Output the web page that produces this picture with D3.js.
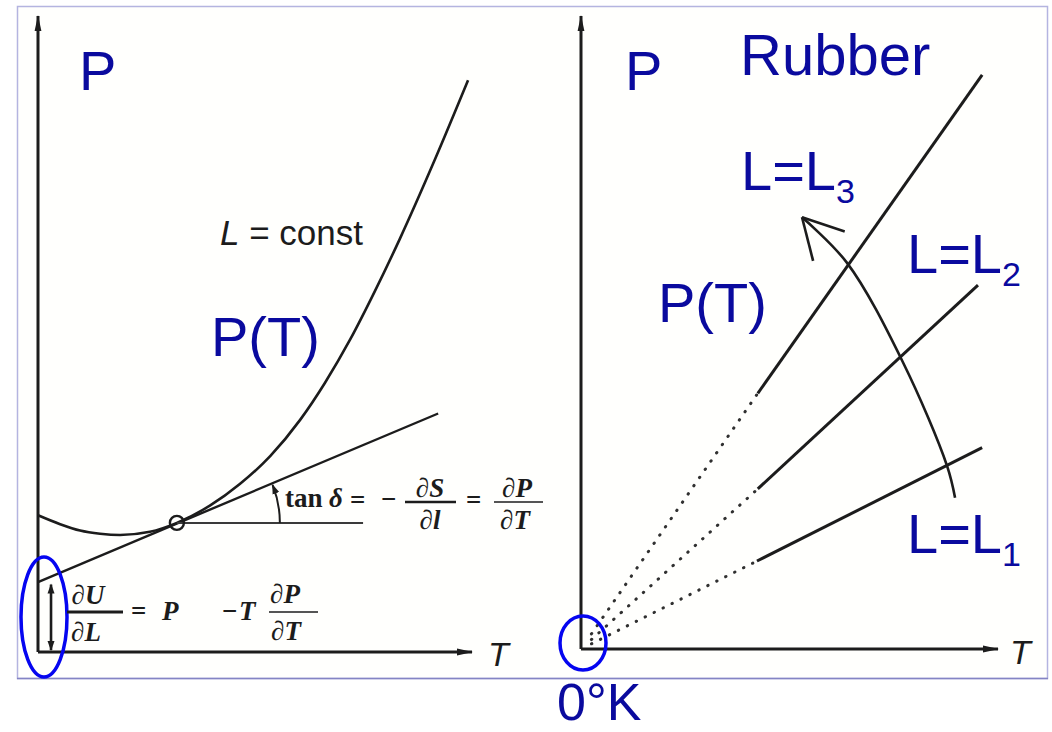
<!DOCTYPE html>
<html>
<head>
<meta charset="utf-8">
<script src="https://cdn.jsdelivr.net/npm/d3@7"></script>
<style>
  html, body { margin: 0; padding: 0; background: #ffffff; }
  svg { display: block; }
</style>
</head>
<body>
<svg id="chart" width="1052" height="732"></svg>
<script>
// ---- Left panel: P(T) at constant length, with tangent at one point ----
const curveT = [0, 5.1, 9.7, 14.3, 18.9, 25.8, 32.0, 39.6, 46.5, 53.5, 60.4, 66.1, 71.9, 77.6, 83.4, 91.5, 99.1];
const curveP = [21.5, 20.1, 19.1, 18.6, 18.4, 18.9, 20.3, 23.0, 26.4, 30.8, 36.5, 42.3, 49.1, 56.7, 65.0, 77.5, 89.9];
const tangentT = [0, 92.2];
const tangentP = [11.0, 37.5];
const touchT = 32.0;
const touchP = 20.3;
const levelEndT = 74.9;
const interceptArrowT = 3.0;
const interceptArrowP = [10.6, 0.3];

// ---- Right panel: rubber isometrics extrapolating to 0 K ----
const isoLabels = ["L=L1", "L=L2", "L=L3"];
const isoStartT = [42.2, 42.4, 42.4];
const isoStartP = [13.9, 25.3, 40.4];
const isoEndT = [96.2, 95.2, 96.2];
const isoEndP = [31.8, 57.5, 90.7];
const dotStartT = 2.5;
const arcT = [89.7, 87.8, 77.2, 63.8, 53.0];
const arcP = [23.9, 28.9, 45.3, 61.0, 68.2];

const BLUE_TEXT = "#0a0a9e";
const BLUE_RING = "#0505f0";
const INK = "#1c1c1c";
const SANS = "'Liberation Sans', Arial, Helvetica, sans-serif";
const SERIF = "'Liberation Serif', 'Times New Roman', serif";

const svg = d3.select("#chart");

// frame around both panels
svg.append("rect")
  .attr("x", 17.5).attr("y", 6.5).attr("width", 1030).attr("height", 672)
  .attr("fill", "#fffffd").attr("stroke", "#b4b4e0").attr("stroke-width", 1.5);
svg.append("line")
  .attr("x1", 17).attr("x2", 1048).attr("y1", 678.5).attr("y2", 678.5)
  .attr("stroke", "#8484c4").attr("stroke-width", 1.5);

// markers
const defs = svg.append("defs");
defs.append("marker")
  .attr("id", "axisHead").attr("markerUnits", "userSpaceOnUse")
  .attr("markerWidth", 18).attr("markerHeight", 10)
  .attr("refX", 15).attr("refY", 5).attr("orient", "auto")
  .append("path").attr("d", "M0,1.6 L16,5 L0,8.4 Z").attr("fill", INK);
defs.append("marker")
  .attr("id", "smallHead").attr("markerUnits", "userSpaceOnUse")
  .attr("markerWidth", 12).attr("markerHeight", 10)
  .attr("refX", 9).attr("refY", 5).attr("orient", "auto-start-reverse")
  .append("path").attr("d", "M0,1.5 L10,5 L0,8.5 Z").attr("fill", INK);

function axes(g, x, y) {
  const line = d3.line().x(d => x(d[0])).y(d => y(d[1]));
  g.append("path").datum([[0, 0], [0, 100]]).attr("d", line)
    .attr("fill", "none").attr("stroke", INK).attr("stroke-width", 3)
    .attr("marker-end", "url(#axisHead)");
  g.append("path").datum([[0, 0], [100, 0]]).attr("d", line)
    .attr("fill", "none").attr("stroke", INK).attr("stroke-width", 3)
    .attr("marker-end", "url(#axisHead)");
}

// ================= LEFT PANEL =================
const xL = d3.scaleLinear().domain([0, 100]).range([38, 472]);
const yL = d3.scaleLinear().domain([0, 100]).range([652, 16]);
const gL = svg.append("g");
axes(gL, xL, yL);

const lineL = d3.line().x(d => xL(d[0])).y(d => yL(d[1]));

// P(T) curve
gL.append("path")
  .datum(curveT.map((t, i) => [t, curveP[i]]))
  .attr("d", d3.line().x(d => xL(d[0])).y(d => yL(d[1])).curve(d3.curveMonotoneX))
  .attr("fill", "none").attr("stroke", INK).attr("stroke-width", 2.6);

// tangent
gL.append("path")
  .datum(tangentT.map((t, i) => [t, tangentP[i]]))
  .attr("d", lineL)
  .attr("fill", "none").attr("stroke", INK).attr("stroke-width", 2.4);

// horizontal reference through the touching point
gL.append("path")
  .datum([[touchT, touchP], [levelEndT, touchP]])
  .attr("d", lineL)
  .attr("fill", "none").attr("stroke", "#3a3a3a").attr("stroke-width", 2);

// angle arc δ between the level line and the tangent
const cx = xL(touchT), cy = yL(touchP), r = 103;
const theta = Math.atan2(yL(tangentP[0]) - yL(tangentP[1]), xL(tangentT[1]) - xL(tangentT[0]));
gL.append("path")
  .attr("d", `M${cx + r},${cy} A${r},${r} 0 0 0 ${cx + r * Math.cos(theta - 0.02)},${cy - r * Math.sin(theta - 0.02)}`)
  .attr("fill", "none").attr("stroke", INK).attr("stroke-width", 2)
  .attr("marker-end", "url(#smallHead)");

// touching point
gL.append("circle")
  .attr("cx", cx).attr("cy", cy).attr("r", 7)
  .attr("fill", "none").attr("stroke", INK).attr("stroke-width", 2.4);

// intercept double arrow
gL.append("path")
  .datum(interceptArrowP.map(p => [interceptArrowT, p]))
  .attr("d", lineL)
  .attr("fill", "none").attr("stroke", INK).attr("stroke-width", 2.6)
  .attr("marker-start", "url(#smallHead)").attr("marker-end", "url(#smallHead)");

// ring around the intercept
gL.append("ellipse")
  .attr("cx", 44).attr("cy", 617).attr("rx", 23).attr("ry", 60)
  .attr("fill", "none").attr("stroke", BLUE_RING).attr("stroke-width", 3.5);

// labels
function txt(g, x, y, s, opt = {}) {
  return g.append("text").attr("x", x).attr("y", y).text(s)
    .attr("font-family", opt.family || SANS)
    .attr("font-size", opt.size || 56)
    .attr("font-weight", opt.weight || "normal")
    .attr("font-style", opt.style || "normal")
    .attr("text-anchor", opt.anchor || "start")
    .attr("fill", opt.fill || BLUE_TEXT);
}
txt(gL, 79, 90, "P");
txt(gL, 211, 356, "P(T)");
const lc = txt(gL, 220, 245, "", { size: 35, fill: INK });
lc.append("tspan").attr("font-style", "italic").text("L");
lc.append("tspan").text(" = const");
txt(gL, 488, 666, "T", { size: 34, style: "italic", fill: INK });

// upper relation: tan δ = −∂S/∂l = ∂P/∂T
const fs = 27;
const F = { family: SERIF, size: fs, weight: "bold", fill: INK };
txt(gL, 285, 507, "tan", F);
txt(gL, 329, 507, "δ", { ...F, style: "italic" });
txt(gL, 350, 509, "=", F);
txt(gL, 381, 508, "−", F);
txt(gL, 430, 497, "∂S", { ...F, style: "italic", anchor: "middle" });
txt(gL, 430, 529, "∂l", { ...F, style: "italic", anchor: "middle" });
gL.append("line").attr("x1", 405).attr("x2", 456).attr("y1", 502).attr("y2", 502)
  .attr("stroke", INK).attr("stroke-width", 2.6);
txt(gL, 466, 509, "=", F);
txt(gL, 517, 497, "∂P", { ...F, style: "italic", anchor: "middle" });
txt(gL, 515, 529, "∂T", { ...F, style: "italic", anchor: "middle" });
gL.append("line").attr("x1", 494).attr("x2", 543).attr("y1", 502).attr("y2", 502)
  .attr("stroke", INK).attr("stroke-width", 1.5);

// lower relation: ∂U/∂L = P − T ∂P/∂T
txt(gL, 88, 604, "∂U", { ...F, style: "italic", anchor: "middle" });
txt(gL, 86, 641, "∂L", { ...F, style: "italic", anchor: "middle" });
gL.append("line").attr("x1", 67).attr("x2", 123).attr("y1", 612).attr("y2", 612)
  .attr("stroke", INK).attr("stroke-width", 3);
txt(gL, 131, 620, "=", F);
txt(gL, 162, 620, "P", { ...F, style: "italic" });
txt(gL, 222, 620, "−", F);
txt(gL, 239, 620, "T", { ...F, style: "italic" });
txt(gL, 285, 603, "∂P", { ...F, style: "italic", anchor: "middle" });
txt(gL, 286, 640, "∂T", { ...F, style: "italic", anchor: "middle" });
gL.append("line").attr("x1", 269).attr("x2", 318).attr("y1", 612).attr("y2", 612)
  .attr("stroke", INK).attr("stroke-width", 1.5);

// ================= RIGHT PANEL =================
const xR = d3.scaleLinear().domain([0, 100]).range([581, 998]);
const yR = d3.scaleLinear().domain([0, 100]).range([649, 16]);
const gR = svg.append("g");
axes(gR, xR, yR);
const lineR = d3.line().x(d => xR(d[0])).y(d => yR(d[1]));

isoLabels.forEach((name, i) => {
  const slope = isoStartP[i] / isoStartT[i];
  // dotted extrapolation toward 0 K
  gR.append("path")
    .datum([[dotStartT, dotStartT * slope], [isoStartT[i], isoStartP[i]]])
    .attr("d", lineR)
    .attr("fill", "none").attr("stroke", "#303030").attr("stroke-width", 3)
    .attr("stroke-linecap", "round").attr("stroke-dasharray", "0.5,9.5");
  // measured range
  gR.append("path")
    .datum([[isoStartT[i], isoStartP[i]], [isoEndT[i], isoEndP[i]]])
    .attr("d", lineR)
    .attr("fill", "none").attr("stroke", INK).attr("stroke-width", 3);
});

// direction of increasing length
const arcPts = arcT.map((t, i) => [t, arcP[i]]);
gR.append("path")
  .datum(arcPts)
  .attr("d", d3.line().x(d => xR(d[0])).y(d => yR(d[1])).curve(d3.curveCatmullRom.alpha(0.5)))
  .attr("fill", "none").attr("stroke", INK).attr("stroke-width", 2.6);
{
  const n = arcPts.length;
  const tx = xR(arcPts[n - 1][0]), ty = yR(arcPts[n - 1][1]);
  const px = xR(arcPts[n - 2][0]), py = yR(arcPts[n - 2][1]);
  const back = Math.atan2(py - ty, px - tx) + 0.03;
  const len = 45, spread = 0.5;
  [back - spread, back + spread].forEach(a => {
    gR.append("line")
      .attr("x1", tx).attr("y1", ty)
      .attr("x2", tx + len * Math.cos(a)).attr("y2", ty + len * Math.sin(a))
      .attr("stroke", INK).attr("stroke-width", 2.6);
  });
}

// ring at 0 K
gR.append("ellipse")
  .attr("cx", 583).attr("cy", 643).attr("rx", 23).attr("ry", 27)
  .attr("fill", "none").attr("stroke", BLUE_RING).attr("stroke-width", 3.5);

// labels
txt(gR, 625, 90, "P");
txt(gR, 740, 75, "Rubber", { size: 58 });
txt(gR, 658, 322, "P(T)");
const subPos = [[907, 553], [907, 273], [741, 190]];
isoLabels.forEach((name, i) => {
  const t = txt(gR, subPos[i][0], subPos[i][1], "");
  t.append("tspan").text(name.slice(0, 3));
  t.append("tspan").attr("font-size", 34).attr("dy", 13).text(name.slice(3));
});
txt(gR, 1010, 664, "T", { size: 34, style: "italic", fill: INK });
txt(svg, 557, 720, "0°K", { size: 52 });
</script>
</body>
</html>
